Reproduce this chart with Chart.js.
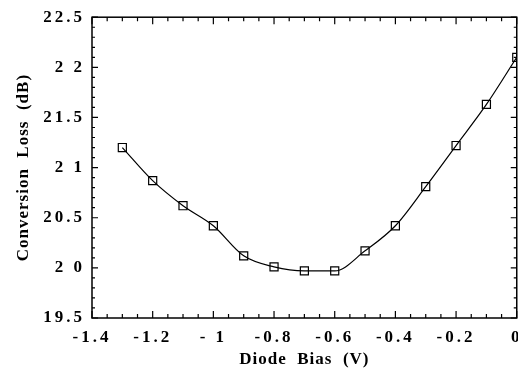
<!DOCTYPE html>
<html>
<head>
<meta charset="utf-8">
<script src="https://cdn.jsdelivr.net/npm/chart.js@4/dist/chart.umd.min.js"></script>
<style>
  html, body { margin: 0; padding: 0; background: #fff; overflow: hidden; }
  #wrap { width: 518px; height: 375px; overflow: hidden; }
</style>
</head>
<body>
<div id="wrap"><canvas id="loss_chart" width="530" height="375"></canvas></div>
<script>
// diode bias (V) and conversion loss (dB)
var bias_v = [-1.3, -1.2, -1.1, -1.0, -0.9, -0.8, -0.7, -0.6, -0.5, -0.4, -0.3, -0.2, -0.1, 0];
var loss_db = [21.20, 20.87, 20.62, 20.42, 20.12, 20.01, 19.97, 19.97, 20.17, 20.42, 20.81, 21.22, 21.63, 22.10];

var x_range = [-1.4, 0];
var y_range = [19.5, 22.5];
var x_step = 0.2, x_minor = 0.05;
var y_step = 0.5, y_minor = 0.1;

var serif = "'Liberation Serif', 'DejaVu Serif', serif";

var points = [];
for (var i = 0; i < bias_v.length; i++) {
  points.push({x: bias_v[i], y: loss_db[i]});
}

// frame with inward ticks on all four sides, plus letter spacing for the old typeset look
var framePlugin = {
  id: 'frame',
  beforeDraw: function(chart) {
    chart.ctx.letterSpacing = '1px';
  },
  afterDatasetsDraw: function(chart) {
    chart.ctx.letterSpacing = '3px';
  },
  afterDraw: function(chart) {
    var ctx = chart.ctx;
    var a = chart.chartArea;
    var xs = chart.scales.x, ys = chart.scales.y;
    ctx.save();
    ctx.letterSpacing = '0px';
    ctx.strokeStyle = '#000';
    ctx.lineWidth = 1.5;
    ctx.strokeRect(a.left, a.top, a.right - a.left, a.bottom - a.top);
    ctx.lineWidth = 1.2;
    ctx.beginPath();
    var n = Math.round((x_range[1] - x_range[0]) / x_minor);
    var per = Math.round(x_step / x_minor);
    for (var k = 0; k <= n; k++) {
      var px = xs.getPixelForValue(x_range[0] + k * x_minor);
      var len = (k % per == 0) ? 7 : 4;
      ctx.moveTo(px, a.bottom); ctx.lineTo(px, a.bottom - len);
      ctx.moveTo(px, a.top); ctx.lineTo(px, a.top + len);
    }
    n = Math.round((y_range[1] - y_range[0]) / y_minor);
    per = Math.round(y_step / y_minor);
    for (var k = 0; k <= n; k++) {
      var py = ys.getPixelForValue(y_range[0] + k * y_minor);
      var len = (k % per == 0) ? 6 : 3;
      ctx.moveTo(a.left, py); ctx.lineTo(a.left + len, py);
      ctx.moveTo(a.right, py); ctx.lineTo(a.right - len, py);
    }
    ctx.stroke();
    ctx.restore();
  }
};

var ctx = document.getElementById("loss_chart");
var loss_chart = new Chart(ctx, {
  type: 'line',
  data: {
    datasets: [{
      data: points,
      borderColor: '#000',
      borderWidth: 1.2,
      cubicInterpolationMode: 'monotone',
      pointStyle: 'rect',
      pointRadius: 5.7,
      pointBorderWidth: 1.2,
      pointBorderColor: '#000',
      pointBackgroundColor: 'rgba(0,0,0,0)',
      fill: false
    }]
  },
  options: {
    responsive: false,
    animation: false,
    devicePixelRatio: 1,
    layout: {padding: {top: 17, right: 13, left: 0, bottom: 0}},
    plugins: {legend: {display: false}, tooltip: {enabled: false}},
    scales: {
      x: {
        type: 'linear',
        min: x_range[0],
        max: x_range[1],
        grid: {display: false, drawTicks: false},
        border: {display: false},
        ticks: {
          stepSize: x_step,
          padding: 9,
          z: 1,
          color: '#000',
          maxRotation: 0,
          font: {family: serif, size: 17, weight: 'bold'},
          callback: function(value) {
            var v = parseFloat(value.toFixed(1));
            if (v == 0) return '0';
            if (Number.isInteger(v)) return '- ' + Math.abs(v);
            return String(v);
          }
        },
        title: {
          display: true,
          text: 'Diode  Bias  (V)',
          color: '#000',
          padding: {top: 0, bottom: 5},
          font: {family: serif, size: 17, weight: 'bold'}
        },
        afterFit: function(scale) { scale.height = 57; }
      },
      y: {
        min: y_range[0],
        max: y_range[1],
        grid: {display: false, drawTicks: false},
        border: {display: false},
        ticks: {
          stepSize: y_step,
          padding: 7,
          z: 1,
          color: '#000',
          font: {family: serif, size: 17, weight: 'bold'},
          callback: function(value) {
            var v = parseFloat(value.toFixed(1));
            if (Number.isInteger(v)) return String(v).split('').join(' ');
            return v.toFixed(1);
          }
        },
        title: {
          display: true,
          text: 'Conversion  Loss  (dB)',
          color: '#000',
          padding: {top: 13, bottom: 0},
          font: {family: serif, size: 17, weight: 'bold'}
        },
        afterFit: function(scale) { scale.width = 92; }
      }
    }
  },
  plugins: [framePlugin]
});
</script>
</body>
</html>
